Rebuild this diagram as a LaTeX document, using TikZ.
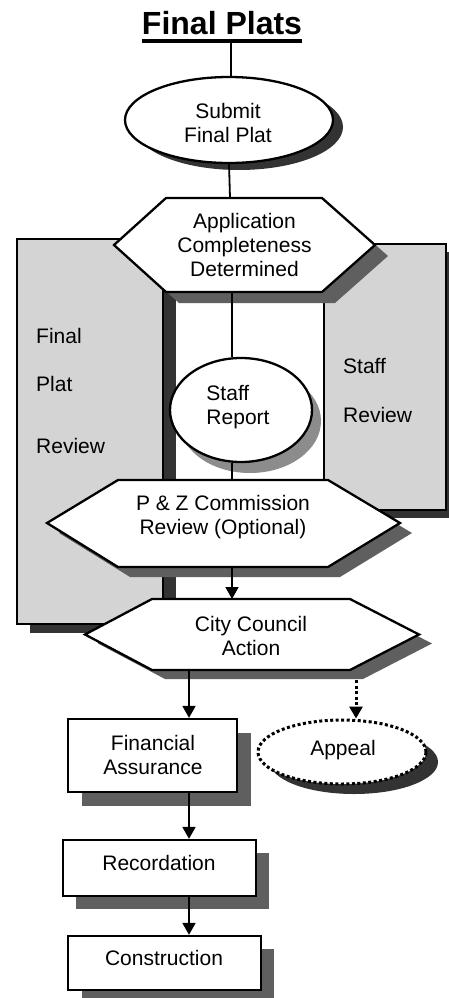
\documentclass[tikz,border=0pt]{standalone}
\usepackage{fontspec}
\setmainfont{Liberation Sans}
\usetikzlibrary{arrows.meta,shapes.geometric}
\definecolor{panelgray}{HTML}{D4D4D4}
\definecolor{shdark}{HTML}{333333}
\definecolor{shmid}{HTML}{5F5F5F}
\definecolor{shlight}{HTML}{8C8C8C}
\begin{document}
\begin{tikzpicture}[x=1pt,y=-1pt,
  txt/.style={font=\fontsize{21}{24}\selectfont, align=center, inner sep=0pt},
  lbl/.style={font=\fontsize{21}{24}\selectfont, anchor=west, inner sep=0pt},
  outl/.style={draw=black, line width=2.3pt, line join=miter},
  conn/.style={line width=1.8pt},
  arr/.style={line width=1.8pt, -{Triangle[width=13pt,length=12pt]}},
  dotarr/.style={line width=3pt, dash pattern=on 3pt off 2.5pt, -{Triangle[width=13pt,length=12pt]}},
  oval/.style={ellipse, draw=black, line width=2.3pt, fill=white, inner sep=0pt},
  boxnode/.style={rectangle, draw=black, line width=2.3pt, fill=white, inner sep=0pt}
]
\useasboundingbox (0,0) rectangle (449,998);
\fill[white] (0,0) rectangle (449,998);

% ---- side panels ----
\fill[shdark] (30,248) rectangle (176,633);
\draw[outl, fill=panelgray] (17,239) rectangle (163,624);
\fill[shdark] (337,252) rectangle (459,518);
\draw[outl, fill=panelgray] (324,244) rectangle (446,510);
\node[lbl] (fp1) at (36,336) {Final};
\node[lbl] (fp2) at (36,384) {Plat};
\node[lbl] (fp3) at (36,446) {Review};
\node[lbl] (sr1) at (343,366) {Staff};
\node[lbl] (sr2) at (343,415) {Review};

% ---- title ----
\node[font=\fontsize{32}{36}\selectfont\bfseries, anchor=base, inner sep=0pt] (title) at (222,35) {Final Plats};
\draw[line width=3.5pt] (title.base west |- 0,41) -- (title.base east |- 0,41);

% ---- submit ellipse ----
\fill[shdark] (239,127) ellipse [x radius=104pt, y radius=43pt];
\node[oval, minimum width=208pt, minimum height=86pt] (sub) at (229,120) {};
\node[txt] (subt) at (228,123) {Submit\\Final Plat};
\coordinate (t0) at (231,40);
\draw[conn] (t0) -- (t0 |- sub.north);

% ---- hexagon 1 ----
\fill[shmid, shift={(13,11)}] (114,245) -- (166,198) -- (322,198) -- (375,245) -- (322,292) -- (166,292) -- cycle;
\draw[outl, fill=white] (114,245) -- (166,198) -- (322,198) -- (375,245) -- (322,292) -- (166,292) -- cycle;
\coordinate (h1t) at (230,198);
\coordinate (h1b) at (232,292);
\node[txt] (h1) at (244.5,245) {Application\\Completeness\\Determined};
\draw[conn] (sub.south |- 0,163) -- (h1t);

% ---- staff report ----
\fill[shlight] (250,421) ellipse [x radius=71pt, y radius=52pt];
\node[oval, minimum width=142pt, minimum height=104pt] (srep) at (241,410) {};
\node[txt, align=left] (srept) at (238,407) {Staff\\Report};
\draw[conn] (h1b) -- (h1b |- srep.north);

% ---- P & Z hexagon ----
\fill[shmid, shift={(12,10)}] (47,523) -- (118,480) -- (328,480) -- (400,523) -- (328,567) -- (118,567) -- cycle;
\draw[outl, fill=white] (47,523) -- (118,480) -- (328,480) -- (400,523) -- (328,567) -- (118,567) -- cycle;
\coordinate (pzt) at (232,480);
\coordinate (pzb) at (232,567);
\node[txt] (pz) at (223,517) {P \& Z Commission\\Review (Optional)};
\draw[conn] (pzt |- srep.south) -- (pzt);

% ---- City Council hexagon ----
\fill[shmid, shift={(13,9)}] (85,634.5) -- (152,599) -- (350,599) -- (419,634.5) -- (350,670) -- (152,670) -- cycle;
\draw[outl, fill=white] (85,634.5) -- (152,599) -- (350,599) -- (419,634.5) -- (350,670) -- (152,670) -- cycle;
\coordinate (cct) at (232,599);
\coordinate (ccb) at (189,670);
\coordinate (ccs) at (356,680);
\node[txt] (cc) at (251,636) {City Council\\Action};
\draw[arr] (pzb) -- (cct);

% ---- Financial Assurance ----
\fill[shmid] (82,733) rectangle (251,806);
\node[boxnode, minimum width=169pt, minimum height=73pt] (fa) at (152.5,755.5) {};
\node[txt] (fat) at (153,755) {Financial\\Assurance};
\draw[arr] (ccb) -- (ccb |- fa.north);

% ---- Appeal ----
\fill[shdark] (354,762) ellipse [x radius=84pt, y radius=32pt];
\node[ellipse, draw=black, line width=3pt, dash pattern=on 3pt off 2.5pt, fill=white, inner sep=0pt, minimum width=168pt, minimum height=64pt] (ap) at (342,752) {};
\node[txt] (apt) at (343,750) {Appeal};
\draw[dotarr] (ccs) -- (ccs |- ap.north);

% ---- Recordation ----
\fill[shmid] (76,853) rectangle (269,909);
\node[boxnode, minimum width=193pt, minimum height=56pt] (rec) at (159.5,868) {};
\node[txt] (rect) at (159,863) {Recordation};
\draw[arr] (ccb |- fa.south) -- (ccb |- rec.north);

% ---- Construction ----
\fill[shmid] (82,949) rectangle (274,1003);
\node[boxnode, minimum width=193pt, minimum height=54pt] (con) at (164.5,963) {};
\node[txt] (cont) at (164,958) {Construction};
\draw[arr] (ccb |- rec.south) -- (ccb |- con.north);
\end{tikzpicture}
\end{document}
